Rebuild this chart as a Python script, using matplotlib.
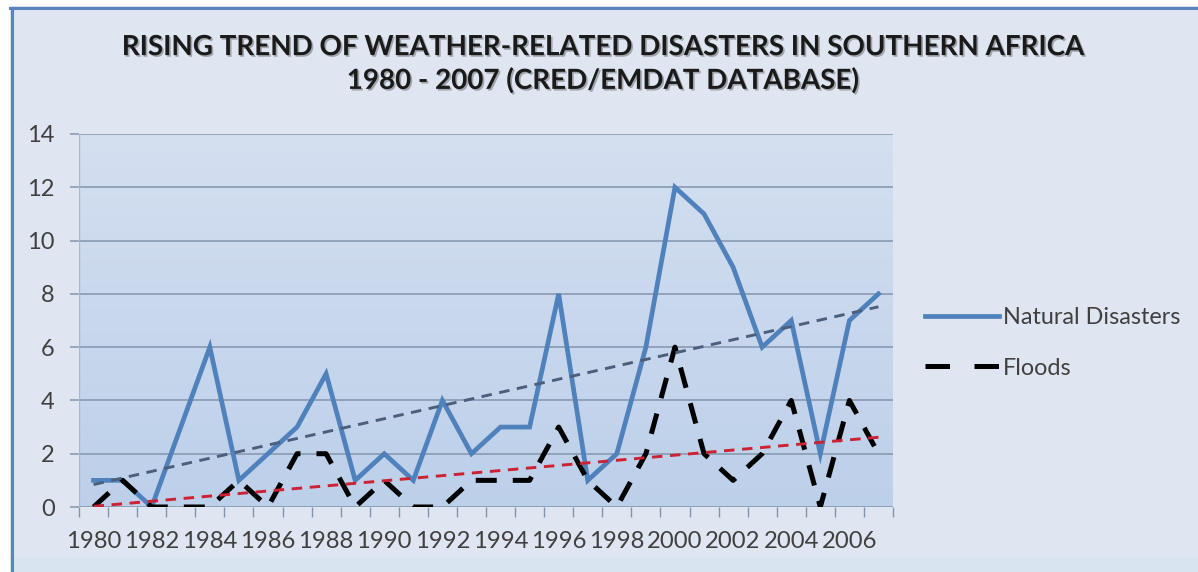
import numpy as np
import matplotlib
matplotlib.use("Agg")
import matplotlib.pyplot as plt
from matplotlib.patches import Rectangle
from matplotlib.lines import Line2D
import matplotlib.patheffects as pe
from matplotlib.colors import LinearSegmentedColormap

# ---- data -------------------------------------------------------------
years = list(range(1980, 2008))
natural_disasters = [1, 1, 0, 3, 6, 1, 2, 3, 5, 1, 2, 1, 4, 2, 3, 3, 8, 1, 2, 6,
                     12, 11, 9, 6, 7, 2, 7, 8]
floods = [0, 1, 0, 0, 0, 1, 0, 2, 2, 0, 1, 0, 0, 1, 1, 1, 3, 1, 0, 2,
          6, 2, 1, 2, 4, 0, 4, 2]
year_labels = [str(y) for y in years[::2]]
y_ticks = [0, 2, 4, 6, 8, 10, 12, 14]
title_text = ("RISING TREND OF WEATHER-RELATED DISASTERS IN SOUTHERN AFRICA\n"
              "1980 - 2007 (CRED/EMDAT DATABASE)")
series_names = ["Natural Disasters", "Floods"]

# ---- figure -----------------------------------------------------------
W, H = 1198, 572
fig = plt.figure(figsize=(W / 100, H / 100), dpi=100, facecolor="white")
FONT = "Lato"


def fx(px):
    return px / W


def fy(py):
    return 1 - py / H


# chart frame
fig.patches.append(Rectangle((fx(10), 0), 1 - fx(10), fy(6), transform=fig.transFigure,
                             facecolor="#dfe6f2", edgecolor="none", zorder=-3))
fig.patches.append(Rectangle((fx(10), 0), 1 - fx(10), fy(557), transform=fig.transFigure,
                             facecolor="#d9e4f1", edgecolor="none", zorder=-2))
fig.lines.append(Line2D([fx(10), 1], [fy(7.5), fy(7.5)], transform=fig.transFigure,
                        color="#5b84bf", lw=2.2, zorder=-1))
fig.lines.append(Line2D([fx(11.5), fx(11.5)], [0, fy(7.5)], transform=fig.transFigure,
                        color="#5b84bf", lw=2.2, zorder=-1))

ax = fig.add_axes([fx(79), fy(507), fx(893) - fx(79), fy(134) - fy(507)])
ax.set_zorder(2)
ax.set_facecolor("none")
x = np.arange(len(years))

# plot-area gradient
cmap = LinearSegmentedColormap.from_list("area", ["#d4dff0", "#bdd0ea"])
ax.imshow(np.linspace(0, 1, 256).reshape(-1, 1), extent=(-0.5, len(years) - 0.5, 0, 14),
          origin="upper", aspect="auto", cmap=cmap, zorder=0)

ax.set_xlim(-0.5, len(years) - 0.5)
ax.set_ylim(0, 14)

grid_col = "#8394ad"
for yv in y_ticks:
    ax.axhline(yv, color=grid_col, lw=1.1, zorder=1)
ax.axvline(-0.5, color="#a9b7ca", lw=1.0, zorder=1)

# series
ax.plot(x, natural_disasters, color="#4f81bd", lw=3.4, solid_joinstyle="miter", zorder=3)
ax.plot(x, floods, color="black", lw=3.6, dashes=(4.2, 3.2), zorder=4)

# linear trend lines
for vals, col in ((natural_disasters, "#4b5f7d"), (floods, "#cc2233")):
    k, b = np.polyfit(x, vals, 1)
    ax.plot(x, k * x + b, color=col, lw=2.1, dashes=(3.6, 2.6), zorder=5)

for s in ax.spines.values():
    s.set_visible(False)

ax.set_yticks(y_ticks)
ax.set_yticklabels([str(v) for v in y_ticks])
ax.tick_params(axis="y", length=6.5, width=1.1, color=grid_col, pad=11,
               labelsize=17, labelcolor="#404040")
ax.set_xticks(x[::2])
ax.set_xticklabels(year_labels)
ax.set_xticks(np.arange(-0.5, len(years), 1.0), minor=True)
ax.tick_params(axis="x", which="major", length=0, pad=17, labelsize=17.2, labelcolor="#404040")
ax.tick_params(axis="x", which="minor", length=7, width=1.0, color=grid_col)
for lab in ax.get_xticklabels() + ax.get_yticklabels():
    lab.set_fontfamily(FONT)

# title
fig.text(fx(603), fy(64), title_text, ha="center", va="center", fontsize=20,
         fontweight="bold", family=FONT, color="#1a1a1a", linespacing=1.3,
         path_effects=[pe.withSimplePatchShadow(offset=(1.2, -1.2), shadow_rgbFace="#555555", alpha=0.45)])

# legend
handles = [Line2D([], [], color="#4f81bd", lw=3.4),
           Line2D([], [], color="black", lw=3.6, dashes=(4.9, 4.9))]
leg = fig.legend(handles, series_names, loc="center left",
                 bbox_to_anchor=(fx(904), fy(343)), frameon=False,
                 prop={"family": FONT, "size": 16.8}, handlelength=3.15,
                 handletextpad=0.2, labelspacing=1.25)
for t in leg.get_texts():
    t.set_color("#404040")

fig.savefig("out.png", dpi=100, facecolor="white")
